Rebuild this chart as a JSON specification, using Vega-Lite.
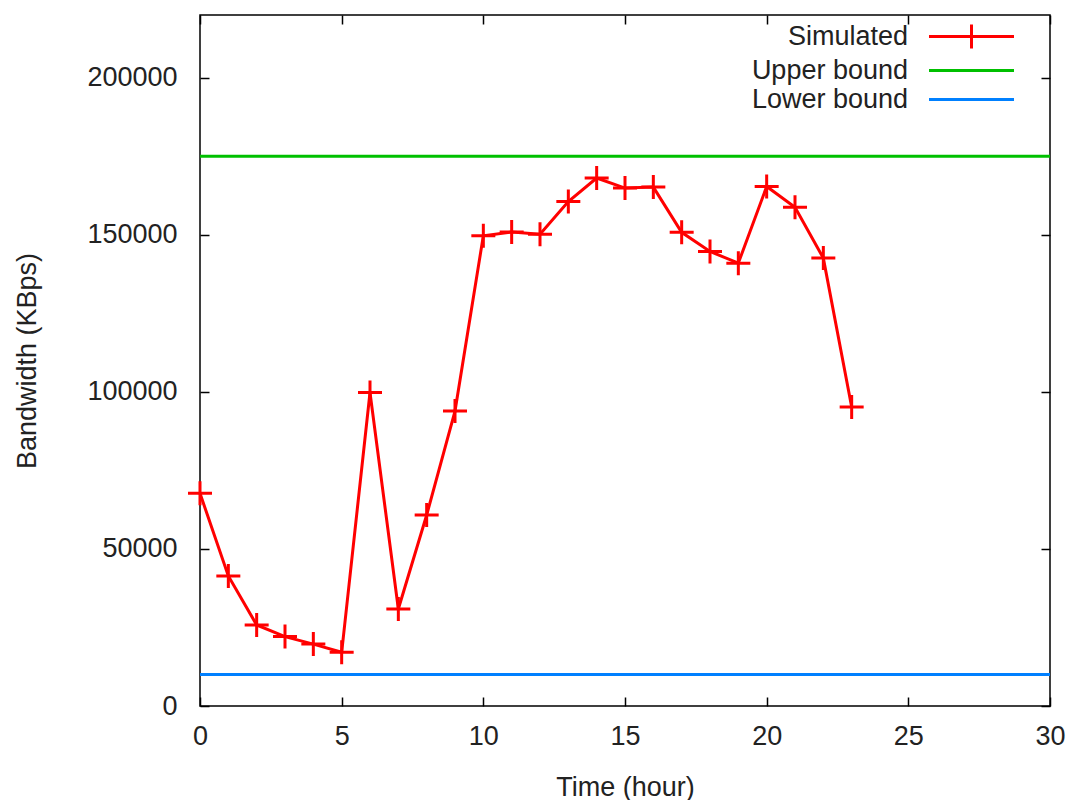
{
  "$schema": "https://vega.github.io/schema/vega-lite/v6.json",
  "width": 850,
  "height": 691,
  "autosize": "none",
  "padding": {"left": 200, "top": 15, "right": 17, "bottom": 94},
  "background": "white",
  "config": {
    "view": {"stroke": "#000000", "strokeWidth": 1.5},
    "font": "Liberation Sans",
    "axis": {
      "labelFontSize": 27,
      "titleFontSize": 27,
      "labelColor": "#222222",
      "titleColor": "#222222",
      "titleFontWeight": "normal",
      "grid": false,
      "domain": false,
      "labelFlush": false,
      "tickColor": "#000000",
      "tickWidth": 1.5,
      "tickSize": -9
    }
  },
  "datasets": {
    "sim": [
      {"hour": 0, "bw": 67700, "series": "Simulated"},
      {"hour": 1, "bw": 41400, "series": "Simulated"},
      {"hour": 2, "bw": 25800, "series": "Simulated"},
      {"hour": 3, "bw": 22100, "series": "Simulated"},
      {"hour": 4, "bw": 19700, "series": "Simulated"},
      {"hour": 5, "bw": 17100, "series": "Simulated"},
      {"hour": 6, "bw": 99800, "series": "Simulated"},
      {"hour": 7, "bw": 30900, "series": "Simulated"},
      {"hour": 8, "bw": 60800, "series": "Simulated"},
      {"hour": 9, "bw": 93900, "series": "Simulated"},
      {"hour": 10, "bw": 149700, "series": "Simulated"},
      {"hour": 11, "bw": 150900, "series": "Simulated"},
      {"hour": 12, "bw": 150200, "series": "Simulated"},
      {"hour": 13, "bw": 160600, "series": "Simulated"},
      {"hour": 14, "bw": 168100, "series": "Simulated"},
      {"hour": 15, "bw": 164900, "series": "Simulated"},
      {"hour": 16, "bw": 165200, "series": "Simulated"},
      {"hour": 17, "bw": 150800, "series": "Simulated"},
      {"hour": 18, "bw": 144700, "series": "Simulated"},
      {"hour": 19, "bw": 141000, "series": "Simulated"},
      {"hour": 20, "bw": 165400, "series": "Simulated"},
      {"hour": 21, "bw": 158800, "series": "Simulated"},
      {"hour": 22, "bw": 142600, "series": "Simulated"},
      {"hour": 23, "bw": 95200, "series": "Simulated"}
    ],
    "bounds": [
      {"bw": 175000, "series": "Upper bound"},
      {"bw": 10000, "series": "Lower bound"}
    ]
  },
  "resolve": {"axis": {"x": "independent", "y": "independent"}},
  "layer": [
    {
      "data": {"name": "bounds"},
      "mark": {"type": "rule", "strokeWidth": 3},
      "encoding": {
        "y": {"field": "bw", "type": "quantitative", "scale": {"domain": [0, 220000]}, "axis": null},
        "color": {
          "field": "series",
          "type": "nominal",
          "scale": {"domain": ["Simulated", "Upper bound", "Lower bound"], "range": ["#ff0000", "#00c000", "#0080ff"]}
        }
      }
    },
    {
      "data": {"name": "sim"},
      "mark": {"type": "line", "strokeWidth": 3},
      "encoding": {
        "x": {
          "field": "hour", "type": "quantitative",
          "scale": {"domain": [0, 30], "nice": false},
          "axis": {"orient": "bottom", "values": [0, 5, 10, 15, 20, 25, 30], "title": "Time (hour)", "labelPadding": 26, "titlePadding": 25}
        },
        "y": {
          "field": "bw", "type": "quantitative",
          "scale": {"domain": [0, 220000], "nice": false},
          "axis": {"orient": "left", "values": [0, 50000, 100000, 150000, 200000], "format": "d", "title": "Bandwidth (KBps)", "labelPadding": 32, "titlePadding": 45}
        },
        "color": {
          "field": "series",
          "type": "nominal",
          "legend": {
            "title": null,
            "orient": "none",
            "legendX": 758,
            "legendY": 8,
            "rowPadding": 1,
            "symbolSize": 400,
            "symbolStrokeWidth": 3,
            "symbolFillColor": "transparent",
            "labelFontSize": 27,
            "labelColor": "#222222",
            "labelAlign": "right",
            "labelOffset": -77,
            "encode": {
              "symbols": {"update": {"shape": {"signal": "datum.value === 'Simulated' ? 'M-4.25,0H4.25M0,-1.2V1.2' : 'M-4.25,0H4.25'"}}}
            }
          }
        }
      }
    },
    {
      "data": {"name": "sim"},
      "mark": {"type": "point", "shape": "M-1,0H1M0,-1V1", "size": 576, "strokeWidth": 3, "filled": false, "opacity": 1},
      "encoding": {
        "x": {"field": "hour", "type": "quantitative", "axis": {"orient": "top", "values": [0, 5, 10, 15, 20, 25, 30], "labels": false, "title": null}},
        "y": {"field": "bw", "type": "quantitative", "axis": {"orient": "right", "values": [0, 50000, 100000, 150000, 200000], "labels": false, "title": null}},
        "color": {"field": "series", "type": "nominal"}
      }
    }
  ]
}
